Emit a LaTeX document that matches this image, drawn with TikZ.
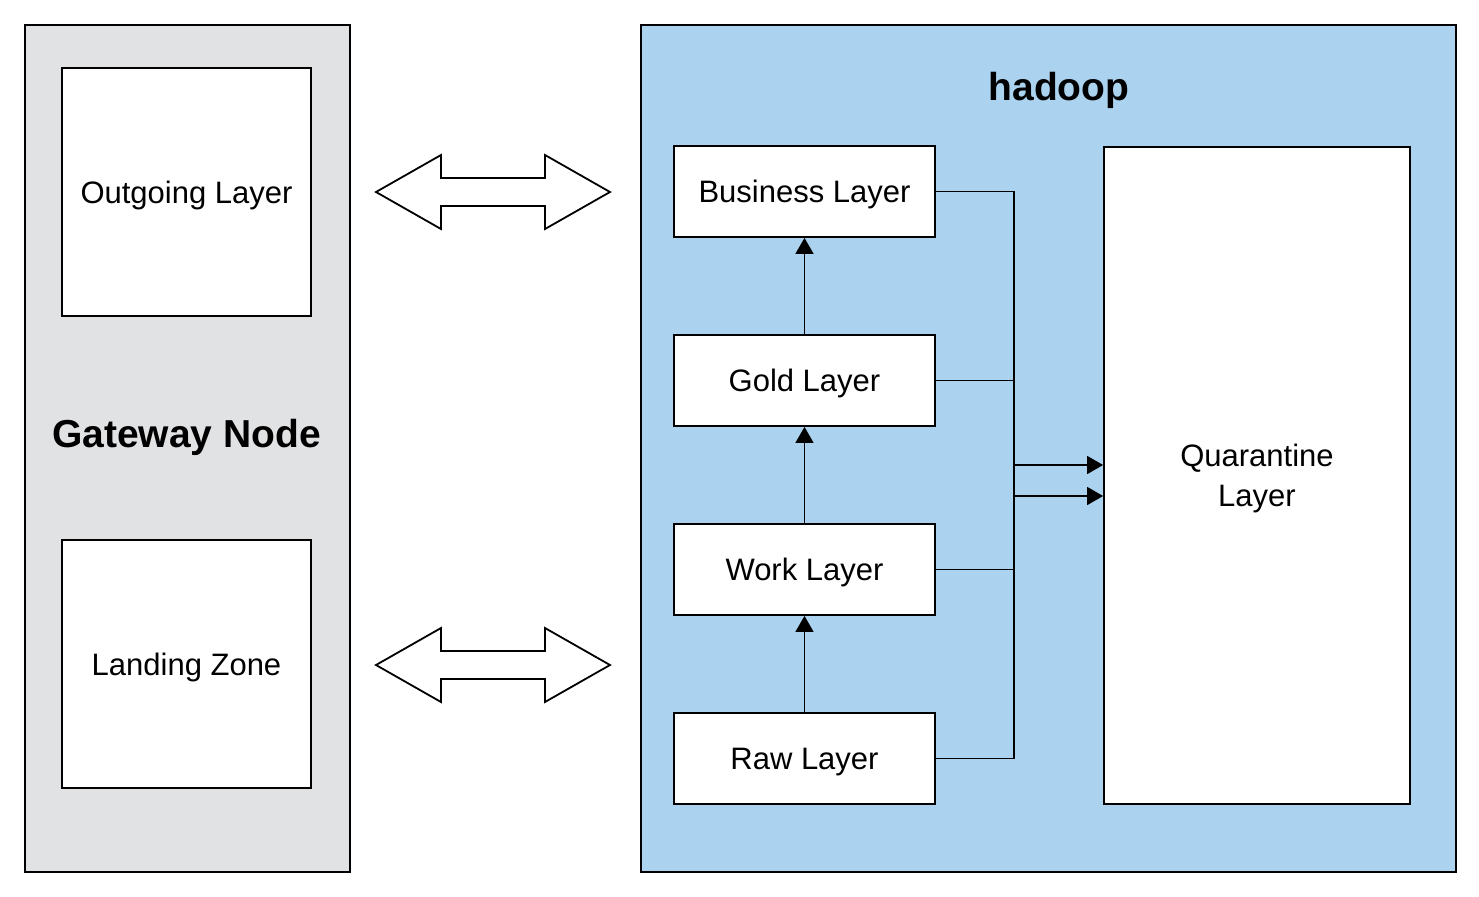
\documentclass[tikz,border=0pt]{standalone}
\usepackage{fontspec}
\setmainfont{Liberation Sans}
\usetikzlibrary{positioning,arrows.meta}
\definecolor{gatewaygrey}{RGB}{225,226,228}
\definecolor{hadoopblue}{RGB}{171,210,238}
\tikzstyle{panel} = [rectangle, draw=black, line width=1pt, anchor=north west,
inner sep=0pt]
\tikzstyle{title} = [font=\fontsize{19.5}{22}\selectfont\bfseries]
\tikzstyle{layer} = [rectangle, draw=black, fill=white, line width=0.9pt,
minimum width=130.5pt, minimum height=45.5pt, text centered, align=center,
text depth=0pt, font=\fontsize{15.5}{20}\selectfont]
\tikzstyle{zone} = [layer, minimum width=124.5pt, minimum height=124pt]
\tikzstyle{link} = [line width=0.75pt]
\tikzstyle{arrow} = [line width=0.75pt,-{Triangle[length=8pt,width=9pt]}]
\tikzstyle{bigarrow} = [draw=black, fill=white, line width=0.9pt,
line join=miter]

\begin{document}
\begin{tikzpicture}[x=0.5pt, y=-0.5pt]
    \useasboundingbox (0,0) rectangle (1479,896);
    % gateway side
    \node (gateway) [panel, fill=gatewaygrey, minimum width=162.5pt,
    minimum height=423.5pt] at (24,24) {};
    \node (outgoing) [zone] at (186.5,192) {Outgoing Layer};
    \node (landing) [zone] at (186.5,664) {Landing Zone};
    \node (gwtitle) [title] at (186.5,437) {Gateway Node};
    % hadoop side
    \node (hadoop) [panel, fill=hadoopblue, minimum width=407.5pt,
    minimum height=423.5pt] at (640,24) {};
    \node (hdtitle) [title] at (1059,90) {hadoop};
    \node (raw) [layer] at (804.5,758.5) {Raw Layer};
    \node (work) [layer, above of=raw, node distance=94.5pt] {Work Layer};
    \node (gold) [layer, above of=work, node distance=94.5pt] {Gold Layer};
    \node (business) [layer, above of=gold, node distance=94.5pt] {Business Layer};
    \node (quarantine) [layer, minimum width=153pt, minimum height=328.5pt]
    at (1257,475.5) {Quarantine\\Layer};
    \draw [arrow] (raw) -- (work);
    \draw [arrow] (work) -- (gold);
    \draw [arrow] (gold) -- (business);
    \coordinate (bus) at (1014,192);
    \draw [link] (business.east) -- (business.east -| bus) -- (raw.east -| bus)
    -- (raw.east);
    \draw [link] (gold.east) -- (gold.east -| bus);
    \draw [link] (work.east) -- (work.east -| bus);
    \coordinate (in1) at (1014,465);
    \coordinate (in2) at (1014,496);
    \draw [arrow] (in1) -- (in1 -| quarantine.west);
    \draw [arrow] (in2) -- (in2 -| quarantine.west);
    % transfer arrows between both sides
    \foreach \y in {192,665}
        \draw [bigarrow] (376,\y) -- (441,\y-37) -- (441,\y-14) -- (545,\y-14)
        -- (545,\y-37) -- (610,\y) -- (545,\y+37) -- (545,\y+14)
        -- (441,\y+14) -- (441,\y+37) -- cycle;
\end{tikzpicture}
\end{document}
